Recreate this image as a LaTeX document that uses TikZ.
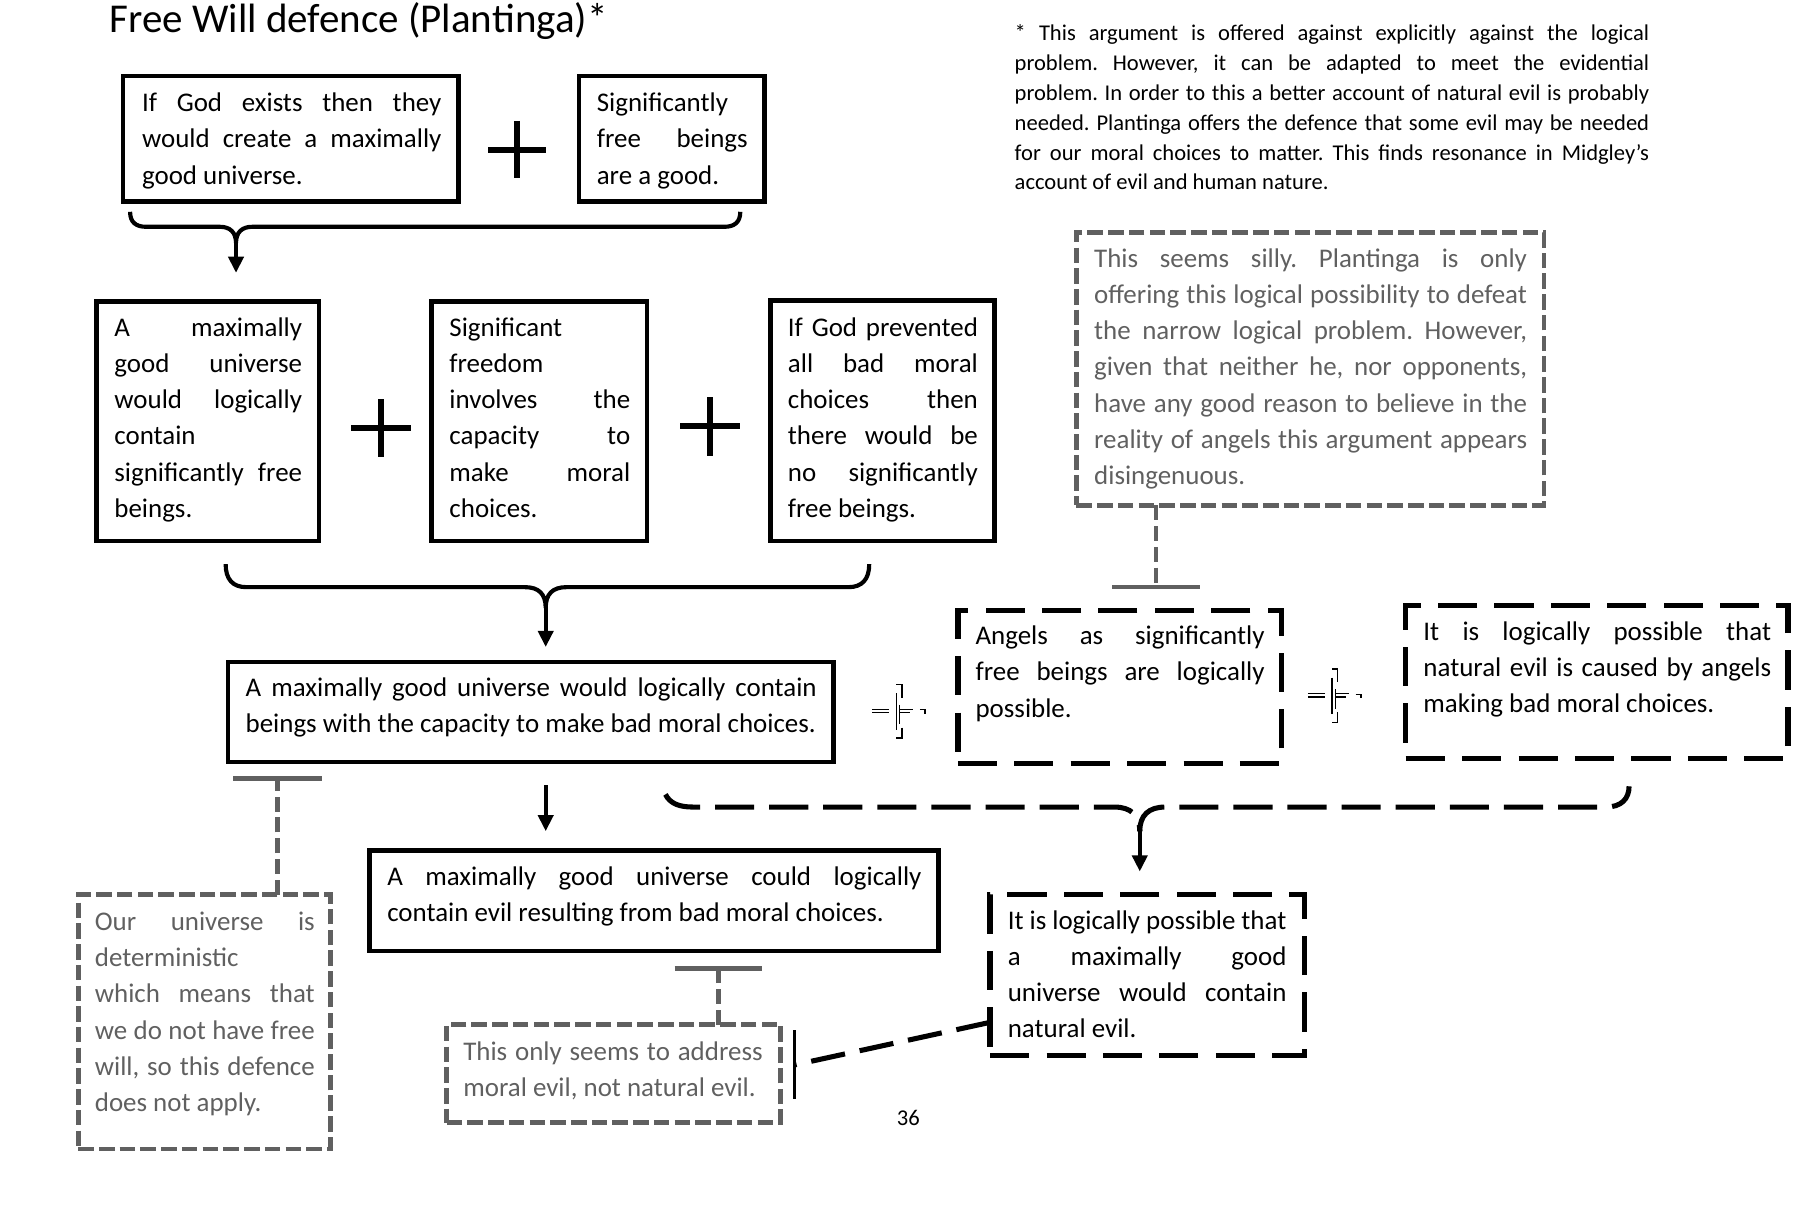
\documentclass[tikz,border=0pt]{standalone}
\usepackage{fontspec}
\setmainfont{Carlito}
\usetikzlibrary{arrows.meta}
\definecolor{gr}{HTML}{606060}
\frenchspacing
\newcommand\jl[1]{\makebox[\linewidth][s]{#1}\par}
\newcommand\tb[2]{\begin{minipage}[t]{#1}#2\end{minipage}}
\begin{document}
\begin{tikzpicture}[x=0.5pt,y=-0.5pt,
  sbox/.style={draw=black, line width=2pt, inner sep=0pt, outer sep=0pt},
  dbox/.style={draw=black, line width=2.3pt, dash pattern=on 17pt off 7.5pt, inner sep=0pt, outer sep=0pt},
  gbox/.style={draw=gr, line width=2pt, dash pattern=on 6.75pt off 2.25pt, inner sep=0pt, outer sep=0pt},
  txt/.style={anchor=base west, inner sep=0pt, font=\fontsize{11.7}{15.75}\selectfont},
  gtxt/.style={txt, text=gr},
  brace/.style={line width=1.8pt},
  dbrace/.style={line width=2.2pt, dash pattern=on 17pt off 6.5pt},
  arr/.style={line width=1.8pt, -{Triangle[width=6.5pt,length=7pt]}},
  gcon/.style={draw=gr, line width=2pt, dash pattern=on 6.5pt off 2.5pt},
  gbar/.style={draw=gr, line width=2pt},
  bcon/.style={line width=2.2pt, dash pattern=on 15pt off 6.5pt},
  bbar/.style={line width=1.6pt},
  plus/.style={line width=2.5pt},
  brk/.pic={
    \begin{scope}[line width=0.6pt]
      \draw (-24,-1.5) -- (-9.5,-1.5);
      \draw (-24,1.5) -- (-9.5,1.5);
      \draw (-3,-23) -- (2,-23) -- (2,-11.5);
      \draw (-3,-15.5) -- (-3,16.5);
      \draw (0,-5.5) -- (0,11.5);
      \draw (0,-1.5) -- (11.5,-1.5);
      \draw (0,1.5) -- (9,1.5);
      \draw (2,14.5) -- (2,23.5) -- (-3,23.5);
      \draw (17.5,-1) -- (22,-1) -- (22,2.5);
    \end{scope}
  }]
\useasboundingbox (0,0) rectangle (1560,1070);

% title and note
\node[anchor=base west, inner sep=0pt, font=\fontsize{17.8}{21}\selectfont] (title) at (95,28) {Free Will defence (Plantinga)*};
\node[anchor=base west, inner sep=0pt, font=\fontsize{9.8}{13}\selectfont] (note) at (881,35) {\tb{275.5pt}{%
\jl{* This argument is offered against explicitly against the logical}%
\jl{problem. However, it can be adapted to meet the evidential}%
\jl{problem. In order to this a better account of natural evil is probably}%
\jl{needed. Plantinga offers the defence that some evil may be needed}%
\jl{for our moral choices to matter. This finds resonance in Midgley’s}%
account of evil and human nature.}};

% boxes
\node[sbox, minimum width=145.5pt, minimum height=54.5pt] (A1) at (252.5,120.5) {};
\node[sbox, minimum width=80.5pt, minimum height=54.5pt] (A2) at (583.5,120.5) {};
\node[sbox, minimum width=96.5pt, minimum height=104pt] (B1) at (180.5,366) {};
\node[sbox, minimum width=93.5pt, minimum height=104pt] (B2) at (468.5,366) {};
\node[sbox, minimum width=97.5pt, minimum height=104.5pt] (B3) at (766.5,365.5) {};
\node[sbox, minimum width=263pt, minimum height=43.5pt] (C1) at (461,618.5) {};
\node[sbox, minimum width=247pt, minimum height=43.5pt] (D1) at (568,782.5) {};
\node[gbox, minimum width=203pt, minimum height=118.5pt] (G1) at (1138,320.5) {};
\node[dbox, minimum width=140.5pt, minimum height=66.5pt] (E1) at (972.5,596.5) {};
\node[dbox, minimum width=166pt, minimum height=66.5pt] (E2) at (1387,592.5) {};
\node[dbox, minimum width=136.5pt, minimum height=70pt] (F1) at (996.5,847) {};
\node[gbox, minimum width=109.5pt, minimum height=110.5pt] (G2) at (177.5,887.5) {};
\node[gbox, minimum width=145pt, minimum height=42.5pt] (G3) at (533,932.5) {};

% texts
\node[txt] (tA1) at (123,97) {\tb{130pt}{\jl{If God exists then they}\jl{would create a maximally}good universe.}};
\node[txt] (tA2) at (518,97) {\tb{65.5pt}{Significantly\par\jl{free beings}are a good.}};
\node[txt] (tB1) at (99,292) {\tb{81.5pt}{\jl{A maximally}\jl{good universe}\jl{would logically}contain\par\jl{significantly free}beings.}};
\node[txt] (tB2) at (390,292) {\tb{78.5pt}{Significant\par freedom\par\jl{involves the}\jl{capacity to}\jl{make moral}choices.}};
\node[txt] (tB3) at (684,292) {\tb{82.5pt}{\jl{If God prevented}\jl{all bad moral}\jl{choices then}\jl{there would be}\jl{no significantly}free beings.}};
\node[txt] (tC1) at (213,605) {\tb{248pt}{\jl{A maximally good universe would logically contain}beings with the capacity to make bad moral choices.}};
\node[txt] (tD1) at (336,769) {\tb{232pt}{\jl{A maximally good universe could logically}contain evil resulting from bad moral choices.}};
\node[gtxt] (tG1) at (950,232) {\tb{188pt}{\jl{This seems silly. Plantinga is only}\jl{offering this logical possibility to defeat}\jl{the narrow logical problem. However,}\jl{given that neither he, nor opponents,}\jl{have any good reason to believe in the}\jl{reality of angels this argument appears}disingenuous.}};
\node[txt] (tE1) at (847,560) {\tb{125.5pt}{\jl{Angels as significantly}\jl{free beings are logically}possible.}};
\node[txt] (tE2) at (1236,556) {\tb{151pt}{\jl{It is logically possible that}\jl{natural evil is caused by angels}making bad moral choices.}};
\node[txt] (tF1) at (875,807) {\tb{121pt}{\jl{It is logically possible that}\jl{a maximally good}\jl{universe would contain}natural evil.}};
\node[gtxt] (tG2) at (82,808) {\tb{95.5pt}{\jl{Our universe is}deterministic\par\jl{which means that}\jl{we do not have free}\jl{will, so this defence}does not apply.}};
\node[gtxt] (tG3) at (402,921) {\tb{130pt}{\jl{This only seems to address}moral evil, not natural evil.}};
\node[anchor=base, inner sep=0pt, font=\fontsize{9.8}{12}\selectfont] (page) at (789,978) {36};

% plus signs
\draw[plus] (424,130) -- (474,130) (449,105) -- (449,155);
\draw[plus] (305,372) -- (357,372) (331,347) -- (331,397);
\draw[plus] (591,370) -- (643,370) (617,345) -- (617,396);

% brace 1
\coordinate (b1l) at (113,184);
\coordinate (b1c) at (205,211);
\coordinate (b1r) at (643,184);
\coordinate (b1t) at (205,237);
\draw[brace] (b1l) .. controls (113,193) and (118,197) .. (127,197) -- (191,197)
  .. controls (200,197) and (205,202) .. (b1c)
  .. controls (205,202) and (210,197) .. (219,197) -- (629,197)
  .. controls (638,197) and (643,193) .. (b1r);
\draw[arr] (b1c) -- (b1t);

% brace 2
\coordinate (b2l) at (196,490);
\coordinate (b2c) at (474,528);
\coordinate (b2r) at (755,490);
\coordinate (b2t) at (474,562);
\draw[brace] (b2l) .. controls (196,503) and (202,510) .. (214,510) -- (456,510)
  .. controls (468,510) and (474,516) .. (b2c)
  .. controls (474,516) and (480,510) .. (492,510) -- (737,510)
  .. controls (749,510) and (755,503) .. (b2r);
\draw[arr] (b2c) -- (b2t);

% arrow C1 -> D1
\coordinate (a3s) at (474,682);
\coordinate (a3e) at (474,722);
\draw[arr] (a3s) -- (a3e);

% dashed brace 3
\coordinate (b3l) at (578,690);
\coordinate (b3c) at (990,722);
\coordinate (b3r) at (1415,683);
\coordinate (b3t) at (990,757);
\draw[dbrace] (b3l) .. controls (582,698) and (590,701) .. (602,701) -- (968,701)
  .. controls (982,701) and (990,708) .. (b3c);
\draw[dbrace] (b3c) .. controls (990,708) and (998,701) .. (1012,701) -- (1395,701)
  .. controls (1408,701) and (1415,694) .. (b3r);
\draw[arr] (b3c) -- (b3t);

% grey T connectors
\coordinate (t1) at (1004,510);
\draw[gcon] (G1.south -| t1) -- (t1);
\draw[gbar] ([xshift=-19pt]t1) -- ([xshift=19pt]t1);
\coordinate (t2) at (241,676);
\draw[gcon] (G2.north -| t2) -- (t2);
\draw[gbar] ([xshift=-19.25pt]t2) -- ([xshift=19.25pt]t2);
\coordinate (t3) at (624,841);
\draw[gcon] (G3.north -| t3) -- (t3);
\draw[gbar] ([xshift=-19pt]t3) -- ([xshift=19pt]t3);

% F1 -> G3 connector
\coordinate (t4) at (690,925);
\draw[bcon] ([yshift=-20.5pt]F1.west) -- (t4);
\draw[bbar] ([yshift=15pt]t4) -- ([yshift=-15pt]t4);

% broken link symbols
\pic at (781.5,617.5) {brk};
\pic at (1160,604) {brk};
\end{tikzpicture}
\end{document}
